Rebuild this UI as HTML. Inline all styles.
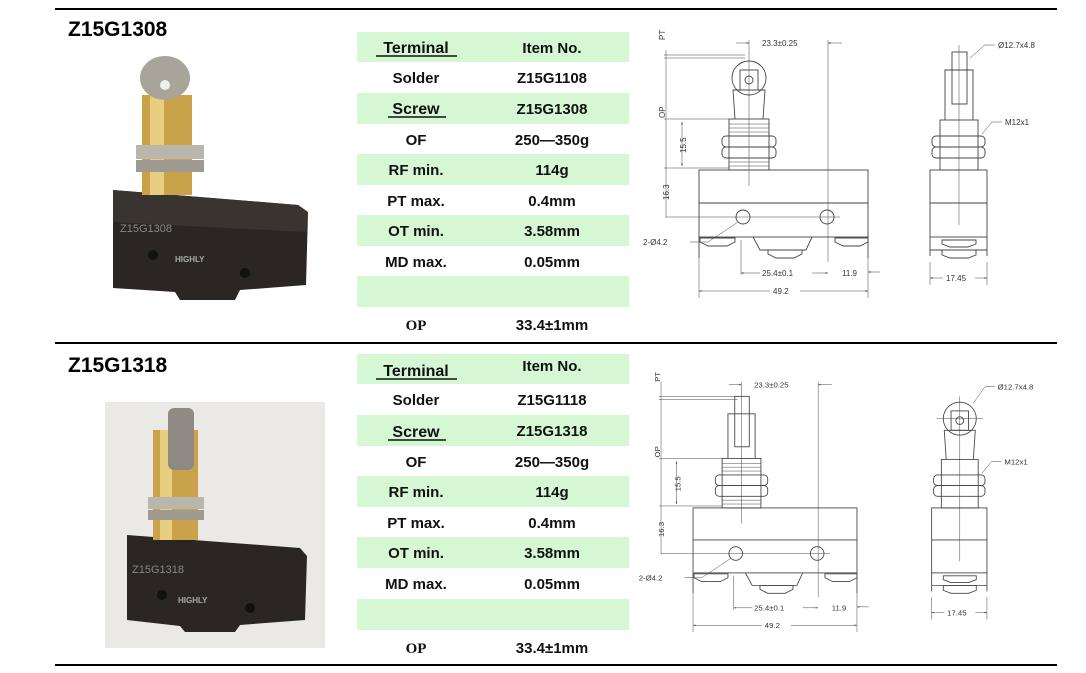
<!DOCTYPE html>
<html><head><meta charset="utf-8"><style>
html,body{margin:0;padding:0;background:#fff;width:1086px;height:673px;overflow:hidden}
svg{display:block}
.t{font-family:"Liberation Sans",sans-serif;font-weight:bold;font-size:15px;fill:#111}
.ti{font-family:"Liberation Sans",sans-serif;font-weight:bold;font-size:21px;fill:#000}
.op{font-family:"Liberation Serif",serif;font-weight:bold;font-size:15px;fill:#111}
.d{font-family:"Liberation Sans",sans-serif;font-size:8px;fill:#333}
.ln{stroke:#444;stroke-width:0.9;fill:none}
.th{stroke:#444;stroke-width:0.5;fill:none}
</style></head><body>
<svg width="1086" height="673" viewBox="0 0 1086 673" xmlns="http://www.w3.org/2000/svg">
<defs>
<marker id="a" viewBox="0 0 10 10" refX="10" refY="5" markerWidth="5" markerHeight="5" orient="auto-start-reverse"><path d="M0,2 L10,5 L0,8z" fill="#333"/></marker>
</defs>
<line x1="55" y1="9" x2="1057" y2="9" stroke="#000" stroke-width="2"/>
<line x1="55" y1="343" x2="1057" y2="343" stroke="#000" stroke-width="2"/>
<line x1="55" y1="665" x2="1057" y2="665" stroke="#000" stroke-width="2"/>

<text x="68" y="36" class="ti">Z15G1308</text>
<text x="68" y="372" class="ti">Z15G1318</text>

<!-- Photo 1 -->
<g>
<path d="M113,190 L298,205 L308,212 L306,285 L240,290 L235,300 L180,300 L175,292 L113,288 Z" fill="#2b2624"/>
<path d="M113,190 L298,205 L308,212 L306,232 L113,222 Z" fill="#3a3431"/>
<rect x="142" y="95" width="50" height="100" fill="#c9a24a"/>
<rect x="150" y="95" width="14" height="100" fill="#e8cf80"/>
<rect x="136" y="145" width="68" height="14" fill="#b9b6ad"/>
<rect x="136" y="160" width="68" height="12" fill="#9e9a8f"/>
<ellipse cx="165" cy="78" rx="25" ry="22" fill="#a8a49a"/>
<circle cx="165" cy="85" r="5" fill="#eee"/>
<text x="120" y="232" font-family="Liberation Sans,sans-serif" font-size="11" fill="#888">Z15G1308</text>
<text x="175" y="262" font-family="Liberation Sans,sans-serif" font-size="8" font-weight="bold" fill="#aaa">HIGHLY</text>
<circle cx="153" cy="255" r="5" fill="#111"/><circle cx="245" cy="273" r="5" fill="#111"/>
</g>
<!-- Photo 2 -->
<g>
<rect x="105" y="402" width="220" height="246" fill="#ebe9e5"/>
<path d="M127,535 L300,548 L307,556 L305,620 L240,625 L235,632 L185,632 L180,626 L127,620 Z" fill="#2b2624"/>
<rect x="153" y="430" width="45" height="110" fill="#c9a24a"/>
<rect x="160" y="430" width="12" height="110" fill="#e8cf80"/>
<rect x="148" y="497" width="56" height="12" fill="#b9b6ad"/>
<rect x="148" y="510" width="56" height="10" fill="#9e9a8f"/>
<rect x="168" y="408" width="26" height="62" rx="6" fill="#8f8b83"/>
<text x="132" y="573" font-family="Liberation Sans,sans-serif" font-size="11" fill="#888">Z15G1318</text>
<text x="178" y="603" font-family="Liberation Sans,sans-serif" font-size="8" font-weight="bold" fill="#aaa">HIGHLY</text>
<circle cx="162" cy="595" r="5" fill="#111"/><circle cx="250" cy="608" r="5" fill="#111"/>
</g>

<!-- Table 1 -->
<g fill="#d6f7d4">
<rect x="357" y="32" width="272" height="30"/>
<rect x="357" y="93" width="272" height="31"/>
<rect x="357" y="154" width="272" height="31"/>
<rect x="357" y="215" width="272" height="31"/>
<rect x="357" y="276" width="272" height="31"/>
</g>
<g class="t" text-anchor="middle">
<text x="416" y="53" font-size="16">Terminal</text><line x1="376" y1="56" x2="457" y2="56" stroke="#111" stroke-width="1.5"/>
<text x="552" y="53">Item No.</text>
<text x="416" y="83">Solder</text><text x="552" y="83">Z15G1108</text>
<text x="416" y="114" font-size="16">Screw</text><line x1="388" y1="117" x2="446" y2="117" stroke="#111" stroke-width="1.5"/>
<text x="552" y="114">Z15G1308</text>
<text x="416" y="145">OF</text><text x="552" y="145">250—350g</text>
<text x="416" y="175">RF min.</text><text x="552" y="175">114g</text>
<text x="416" y="206">PT max.</text><text x="552" y="206">0.4mm</text>
<text x="416" y="236">OT min.</text><text x="552" y="236">3.58mm</text>
<text x="416" y="267">MD max.</text><text x="552" y="267">0.05mm</text>
<text x="552" y="330">33.4±1mm</text>
</g>
<text x="416" y="330" class="op" text-anchor="middle">OP</text>

<!-- Table 2 -->
<g fill="#d6f7d4">
<rect x="357" y="354" width="272" height="30"/>
<rect x="357" y="415" width="272" height="31"/>
<rect x="357" y="476" width="272" height="31"/>
<rect x="357" y="537" width="272" height="31"/>
<rect x="357" y="599" width="272" height="31"/>
</g>
<g class="t" text-anchor="middle">
<text x="416" y="376" font-size="16">Terminal</text><line x1="376" y1="379" x2="457" y2="379" stroke="#111" stroke-width="1.5"/>
<text x="552" y="371">Item No.</text>
<text x="416" y="405">Solder</text><text x="552" y="405">Z15G1118</text>
<text x="416" y="437" font-size="16">Screw</text><line x1="388" y1="440" x2="446" y2="440" stroke="#111" stroke-width="1.5"/>
<text x="552" y="436">Z15G1318</text>
<text x="416" y="467">OF</text><text x="552" y="467">250—350g</text>
<text x="416" y="497">RF min.</text><text x="552" y="497">114g</text>
<text x="416" y="528">PT max.</text><text x="552" y="528">0.4mm</text>
<text x="416" y="558">OT min.</text><text x="552" y="558">3.58mm</text>
<text x="416" y="589">MD max.</text><text x="552" y="589">0.05mm</text>
<text x="552" y="653">33.4±1mm</text>
</g>
<text x="416" y="653" class="op" text-anchor="middle">OP</text>

<!-- Drawing 1 -->
<g>
<rect x="699" y="170" width="169" height="67" class="ln"/>
<line x1="699" y1="203" x2="868" y2="203" class="ln"/>
<path d="M699,237 L699,258 M868,237 L868,258" class="ln"/>
<path d="M753,237 L760,250 L806,250 L812,237" class="ln"/>
<path d="M700,238 h35 v4 l-8,4 h-19 l-8,-4z M768,250 h34 v4 l-8,4 h-18 l-8,-4z M835,238 h33 v4 l-8,4 h-17 l-8,-4z" class="ln"/>
<circle cx="743" cy="217" r="7" class="ln"/><circle cx="827" cy="217" r="7" class="ln"/>
<line x1="666" y1="217" x2="840" y2="217" class="th"/>
<rect x="729" y="119" width="40" height="51" class="ln"/>
<g class="th"><line x1="729" y1="124" x2="769" y2="124"/><line x1="729" y1="128" x2="769" y2="128"/><line x1="729" y1="132" x2="769" y2="132"/><line x1="729" y1="162" x2="769" y2="162"/><line x1="729" y1="166" x2="769" y2="166"/></g>
<rect x="722" y="136" width="54" height="11" rx="4" class="ln" fill="#fff"/>
<rect x="722" y="147" width="54" height="11" rx="4" class="ln" fill="#fff"/>
<path d="M735,119 L733,90 L765,90 L763,119" class="ln"/>
<circle cx="749" cy="78" r="17" class="ln"/>
<rect x="740" y="70" width="18" height="20" class="ln" fill="#fff"/>
<circle cx="749" cy="80" r="4" class="ln"/>
<line x1="749" y1="40" x2="749" y2="186" class="th"/>
<line x1="828" y1="40" x2="828" y2="262" class="th"/>
<line x1="736" y1="43" x2="749" y2="43" class="th" marker-end="url(#a)"/>
<line x1="842" y1="43" x2="828" y2="43" class="th" marker-end="url(#a)"/>
<text x="762" y="46" class="d">23.3±0.25</text>
<line x1="666" y1="50" x2="666" y2="218" class="th"/>
<path d="M664,55 H745 M664,58 H745 M664,119 H729 M664,168 H729" class="th"/>
<line x1="682" y1="122" x2="682" y2="166" class="th" marker-start="url(#a)" marker-end="url(#a)"/>
<text transform="translate(665,40) rotate(-90)" class="d" font-size="7">PT</text>
<text transform="translate(665,118) rotate(-90)" class="d">OP</text>
<text transform="translate(686,153) rotate(-90)" class="d">15.5</text>
<text transform="translate(669,200) rotate(-90)" class="d">16.3</text>
<text x="643" y="245" class="d">2-Ø4.2</text>
<path d="M690,242 L708,242 L738,222" class="th"/>
<path d="M741,240 V275 M868,258 V298 M699,258 V298" class="th"/>
<line x1="741" y1="273" x2="760" y2="273" class="th" marker-start="url(#a)"/>
<line x1="812" y1="273" x2="828" y2="273" class="th" marker-end="url(#a)"/>
<text x="762" y="276" class="d">25.4±0.1</text>
<text x="842" y="276" class="d">11.9</text>
<line x1="868" y1="272" x2="880" y2="272" class="th" marker-start="url(#a)"/>
<line x1="699" y1="291" x2="770" y2="291" class="th" marker-start="url(#a)"/>
<line x1="800" y1="291" x2="868" y2="291" class="th" marker-end="url(#a)"/>
<text x="773" y="294" class="d">49.2</text>
<rect x="930" y="170" width="57" height="67" class="ln"/>
<line x1="930" y1="203" x2="987" y2="203" class="ln"/>
<path d="M930,237 V256 M987,237 V256 M930,250 H987" class="ln"/>
<path d="M942,240 h34 v4 l-8,3 h-18 l-8,-3z M942,250 h34 v5 l-8,3 h-18 l-8,-3z" class="ln"/>
<rect x="940" y="120" width="38" height="50" class="ln"/>
<rect x="932" y="136" width="53" height="11" rx="4" class="ln" fill="#fff"/>
<rect x="932" y="147" width="53" height="11" rx="4" class="ln" fill="#fff"/>
<path d="M945,120 V70 H973 V120" class="ln"/>
<rect x="952" y="52" width="15" height="52" class="ln" fill="#fff"/>
<line x1="959" y1="45" x2="959" y2="225" class="th"/>
<text x="998" y="48" class="d" font-size="7">Ø12.7x4.8</text>
<path d="M995,45 L985,45 L970,58" class="th"/>
<text x="1005" y="125" class="d" font-size="7">M12x1</text>
<path d="M1002,122 L992,122 L982,134" class="th"/>
<path d="M930,262 V285 M987,262 V285" class="th"/>
<line x1="930" y1="278" x2="943" y2="278" class="th" marker-start="url(#a)"/>
<line x1="975" y1="278" x2="987" y2="278" class="th" marker-end="url(#a)"/>
<text x="946" y="281" class="d">17.45</text>
</g>

<!-- Drawing 2 -->
<g transform="translate(15,343) scale(0.97)">
<rect x="699" y="170" width="169" height="67" class="ln"/>
<line x1="699" y1="203" x2="868" y2="203" class="ln"/>
<path d="M699,237 L699,258 M868,237 L868,258" class="ln"/>
<path d="M753,237 L760,250 L806,250 L812,237" class="ln"/>
<path d="M700,238 h35 v4 l-8,4 h-19 l-8,-4z M768,250 h34 v4 l-8,4 h-18 l-8,-4z M835,238 h33 v4 l-8,4 h-17 l-8,-4z" class="ln"/>
<circle cx="743" cy="217" r="7" class="ln"/><circle cx="827" cy="217" r="7" class="ln"/>
<line x1="666" y1="217" x2="840" y2="217" class="th"/>
<rect x="729" y="119" width="40" height="51" class="ln"/>
<g class="th"><line x1="729" y1="124" x2="769" y2="124"/><line x1="729" y1="128" x2="769" y2="128"/><line x1="729" y1="132" x2="769" y2="132"/><line x1="729" y1="162" x2="769" y2="162"/><line x1="729" y1="166" x2="769" y2="166"/></g>
<rect x="722" y="136" width="54" height="11" rx="4" class="ln" fill="#fff"/>
<rect x="722" y="147" width="54" height="11" rx="4" class="ln" fill="#fff"/>
<path d="M735,119 V73 H763 V119" class="ln"/>
<rect x="742" y="55" width="15" height="52" class="ln" fill="#fff"/>
<line x1="749" y1="40" x2="749" y2="186" class="th"/>
<line x1="828" y1="40" x2="828" y2="262" class="th"/>
<line x1="736" y1="43" x2="749" y2="43" class="th" marker-end="url(#a)"/>
<line x1="842" y1="43" x2="828" y2="43" class="th" marker-end="url(#a)"/>
<text x="762" y="46" class="d">23.3±0.25</text>
<line x1="666" y1="40" x2="666" y2="218" class="th"/>
<path d="M664,55 H745 M664,58 H745 M664,119 H729 M664,168 H729" class="th"/>
<line x1="682" y1="122" x2="682" y2="166" class="th" marker-start="url(#a)" marker-end="url(#a)"/>
<text transform="translate(665,40) rotate(-90)" class="d" font-size="7">PT</text>
<text transform="translate(665,118) rotate(-90)" class="d">OP</text>
<text transform="translate(686,153) rotate(-90)" class="d">15.5</text>
<text transform="translate(669,200) rotate(-90)" class="d">16.3</text>
<text x="643" y="245" class="d">2-Ø4.2</text>
<path d="M690,242 L708,242 L738,222" class="th"/>
<path d="M741,240 V275 M868,258 V298 M699,258 V298" class="th"/>
<line x1="741" y1="273" x2="760" y2="273" class="th" marker-start="url(#a)"/>
<line x1="812" y1="273" x2="828" y2="273" class="th" marker-end="url(#a)"/>
<text x="762" y="276" class="d">25.4±0.1</text>
<text x="842" y="276" class="d">11.9</text>
<line x1="868" y1="272" x2="880" y2="272" class="th" marker-start="url(#a)"/>
<line x1="699" y1="291" x2="770" y2="291" class="th" marker-start="url(#a)"/>
<line x1="800" y1="291" x2="868" y2="291" class="th" marker-end="url(#a)"/>
<text x="773" y="294" class="d">49.2</text>
<rect x="945" y="170" width="57" height="67" class="ln"/>
<line x1="945" y1="203" x2="1002" y2="203" class="ln"/>
<path d="M945,237 V256 M1002,237 V256 M945,250 H1002" class="ln"/>
<path d="M957,240 h34 v4 l-8,3 h-18 l-8,-3z M957,250 h34 v5 l-8,3 h-18 l-8,-3z" class="ln"/>
<rect x="955" y="120" width="38" height="50" class="ln"/>
<rect x="947" y="136" width="53" height="11" rx="4" class="ln" fill="#fff"/>
<rect x="947" y="147" width="53" height="11" rx="4" class="ln" fill="#fff"/>
<path d="M960,120 L958,90 L990,90 L988,120" class="ln"/>
<circle cx="974" cy="78" r="17" class="ln"/>
<rect x="965" y="70" width="18" height="20" class="ln" fill="#fff"/>
<circle cx="974" cy="80" r="4" class="ln"/>
<line x1="974" y1="55" x2="974" y2="225" class="th"/>
<line x1="950" y1="78" x2="998" y2="78" class="th"/>
<text x="1013" y="48" class="d" font-size="7">Ø12.7x4.8</text>
<path d="M1010,45 L1000,45 L988,62" class="th"/>
<text x="1020" y="125" class="d" font-size="7">M12x1</text>
<path d="M1017,122 L1007,122 L997,134" class="th"/>
<path d="M945,262 V285 M1002,262 V285" class="th"/>
<line x1="945" y1="278" x2="958" y2="278" class="th" marker-start="url(#a)"/>
<line x1="990" y1="278" x2="1002" y2="278" class="th" marker-end="url(#a)"/>
<text x="961" y="281" class="d">17.45</text>
</g>
</svg>
</body></html>
